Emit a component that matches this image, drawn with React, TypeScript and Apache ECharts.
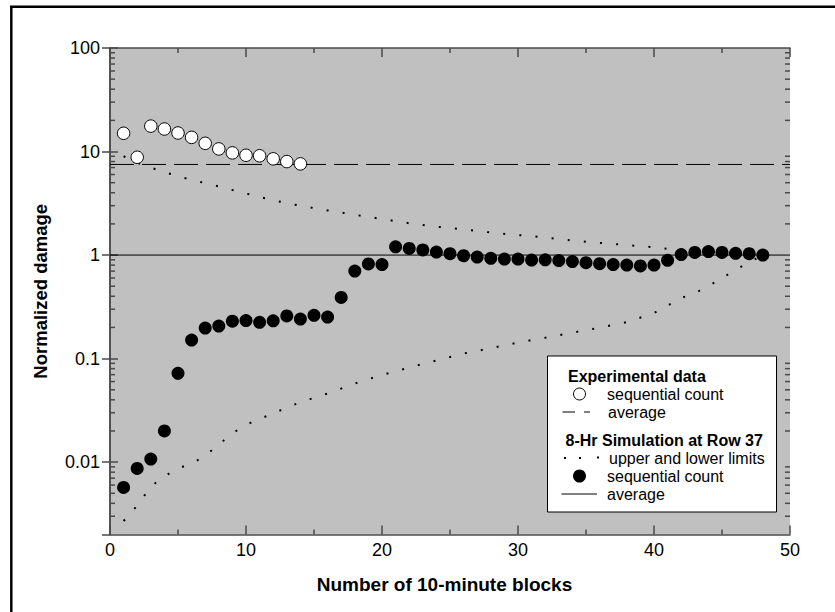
import React, { useEffect, useRef } from "react";
import * as echarts from "echarts";

// ---------- data ----------
const blocksExp = [1, 2, 3, 4, 5, 6, 7, 8, 9, 10, 11, 12, 13, 14];
const damageExp = [15.0, 8.8, 17.6, 16.5, 15.1, 13.7, 12.0, 10.6, 9.7, 9.2, 9.1, 8.5, 8.0, 7.6];

const blocksSim = [
  1, 2, 3, 4, 5, 6, 7, 8, 9, 10, 11, 12, 13, 14, 15, 16, 17, 18, 19, 20, 21, 22, 23, 24,
  25, 26, 27, 28, 29, 30, 31, 32, 33, 34, 35, 36, 37, 38, 39, 40, 41, 42, 43, 44, 45, 46, 47, 48,
];
const damageSim = [
  0.0057, 0.0087, 0.0107, 0.02, 0.072, 0.151, 0.197, 0.206, 0.23, 0.233, 0.224, 0.232,
  0.258, 0.241, 0.262, 0.252, 0.39, 0.7, 0.82, 0.81, 1.2, 1.16, 1.12, 1.07,
  1.03, 0.985, 0.956, 0.93, 0.915, 0.915, 0.895, 0.9, 0.885, 0.865, 0.845, 0.825,
  0.81, 0.8, 0.785, 0.8, 0.89, 1.01, 1.06, 1.08, 1.06, 1.04, 1.03, 1.0,
];

const limitBlocks = [
  1, 2, 3, 4, 5, 6, 7, 8, 9, 10, 12, 14, 16, 18, 20, 22, 24, 26, 28, 30, 32, 34, 36, 38, 40,
  41, 42, 43, 44, 45, 46, 47, 48,
];
const upperLimit = [
  9.0, 7.8, 7.0, 6.3, 5.8, 5.3, 4.96, 4.6, 4.25, 3.93, 3.38, 2.99, 2.7, 2.45, 2.23, 2.03,
  1.88, 1.77, 1.65, 1.56, 1.48, 1.38, 1.31, 1.25, 1.19, 1.15, 1.12, 1.1, 1.08, 1.06, 1.04, 1.02, 1.0,
];
const lowerLimit = [
  0.0027, 0.0038, 0.0058, 0.0073, 0.0087, 0.0097, 0.0115, 0.0148, 0.019, 0.023, 0.0296, 0.038,
  0.046, 0.0575, 0.0695, 0.082, 0.096, 0.112, 0.126, 0.143, 0.159, 0.178, 0.199, 0.225, 0.275,
  0.325, 0.385, 0.43, 0.5, 0.6, 0.72, 0.85, 1.0,
];

const expAverage = 7.5;
const simAverage = 1.0;

const xRange = [0, 50];
const yRange = [0.002, 100];
const yMinorTicks = [
  0.003, 0.004, 0.005, 0.006, 0.007, 0.008, 0.009,
  0.02, 0.03, 0.04, 0.05, 0.06, 0.07, 0.08, 0.09,
  0.2, 0.3, 0.4, 0.5, 0.6, 0.7, 0.8, 0.9,
  2, 3, 4, 5, 6, 7, 8, 9,
  20, 30, 40, 50, 60, 70, 80, 90,
];

const legendTitles = ["Experimental data", "8-Hr Simulation at Row 37"];
const legendLabels = ["sequential count", "average", "upper and lower limits", "sequential count", "average"];

const FONT = '"Liberation Sans", Arial, Helvetica, sans-serif';
const AX = "#4a4a4a";

export default function App() {
  const ref = useRef<HTMLDivElement>(null);

  useEffect(() => {
    if (!ref.current) return;
    const chart = echarts.init(ref.current, undefined, { renderer: "svg" });

    const fmtY = (v: number) => {
      const l = Math.log10(v);
      if (Math.abs(l - Math.round(l)) > 1e-6) return "";
      return String(Number(v.toPrecision(6)));
    };

    const txt = (text: string, x: number, y: number, bold = false) => ({
      type: "text",
      x,
      y,
      silent: true,
      style: {
        text,
        font: `${bold ? "bold " : ""}16px ${FONT}`,
        fill: "#000",
        verticalAlign: "middle",
        textAlign: "left",
      },
    });

    const option: any = {
      animation: false,
      backgroundColor: "#fff",
      textStyle: { fontFamily: FONT },
      grid: {
        left: 110,
        top: 48,
        right: 45,
        bottom: 77.5,
        show: true,
        backgroundColor: "#c0c0c0",
        borderWidth: 0,
      },
      xAxis: [
        {
          type: "value",
          min: xRange[0],
          max: xRange[1],
          interval: 10,
          position: "bottom",
          name: "Number of 10-minute blocks",
          nameLocation: "middle",
          nameGap: 40,
          nameTextStyle: {
            fontFamily: FONT,
            fontWeight: "bold",
            fontSize: 19,
            color: "#000",
            padding: [0, 11, 0, 0],
          },
          axisLine: { show: true, lineStyle: { color: AX, width: 1.5 } },
          axisTick: { show: true, inside: true, length: 9, lineStyle: { color: AX, width: 1.5 } },
          minorTick: { show: true, splitNumber: 2, length: 5, lineStyle: { color: AX, width: 1.5 } },
          axisLabel: { fontFamily: FONT, fontSize: 18, color: "#000", margin: 6 },
          splitLine: { show: false },
        },
        {
          type: "value",
          min: xRange[0],
          max: xRange[1],
          interval: 10,
          position: "top",
          axisLine: { show: true, lineStyle: { color: AX, width: 1.5 } },
          axisTick: { show: true, inside: true, length: 9, lineStyle: { color: AX, width: 1.5 } },
          minorTick: { show: true, splitNumber: 2, length: 5, lineStyle: { color: AX, width: 1.5 } },
          axisLabel: { show: false },
          splitLine: { show: false },
        },
      ],
      yAxis: [
        {
          type: "log",
          logBase: 10,
          min: yRange[0],
          max: yRange[1],
          position: "left",
          name: "Normalized damage",
          nameLocation: "middle",
          nameGap: 60,
          nameTextStyle: { fontFamily: FONT, fontWeight: "bold", fontSize: 18.5, color: "#000" },
          axisLine: { show: true, lineStyle: { color: AX, width: 1.5 } },
          axisTick: { show: true, inside: true, length: 8, lineStyle: { color: AX, width: 1.5 } },
          axisLabel: {
            fontFamily: FONT,
            fontSize: 18,
            color: "#000",
            margin: 10,
            showMinLabel: false,
            formatter: fmtY,
          },
          splitLine: { show: false },
        },
        {
          type: "log",
          logBase: 10,
          min: yRange[0],
          max: yRange[1],
          position: "right",
          axisLine: { show: true, lineStyle: { color: AX, width: 1.5 } },
          axisTick: { show: true, inside: true, length: 8, lineStyle: { color: AX, width: 1.5 } },
          axisLabel: { show: false },
          splitLine: { show: false },
        },
      ],
      series: [
        {
          type: "custom",
          name: "minorTicks",
          xAxisIndex: 0,
          yAxisIndex: 0,
          clip: false,
          silent: true,
          z: 1,
          data: yMinorTicks.map((v) => [xRange[0], v]),
          renderItem: (params: any, api: any) => {
            const v = api.value(1);
            const pl = api.coord([xRange[0], v]);
            const pr = api.coord([xRange[1], v]);
            return {
              type: "group",
              children: [
                {
                  type: "line",
                  shape: { x1: pl[0], y1: pl[1], x2: pl[0] + 5, y2: pl[1] },
                  style: { stroke: AX, lineWidth: 1.5 },
                },
                {
                  type: "line",
                  shape: { x1: pr[0] - 5, y1: pr[1], x2: pr[0], y2: pr[1] },
                  style: { stroke: AX, lineWidth: 1.5 },
                },
              ],
            };
          },
        },
        {
          type: "line",
          name: "expAverage",
          data: [
            [xRange[0], expAverage],
            [xRange[1], expAverage],
          ],
          showSymbol: false,
          z: 2,
          lineStyle: { color: "#000", width: 1, type: [24, 8] },
        },
        {
          type: "line",
          name: "simAverage",
          data: [
            [xRange[0], simAverage],
            [xRange[1], simAverage],
          ],
          showSymbol: false,
          z: 2,
          lineStyle: { color: "#000", width: 1, type: "solid" },
        },
        {
          type: "line",
          name: "upper",
          data: limitBlocks.map((b, i) => [b, upperLimit[i]]),
          showSymbol: false,
          smooth: false,
          z: 2,
          lineStyle: { color: "#000", width: 2, type: [2, 14.2], cap: "butt" },
        },
        {
          type: "line",
          name: "lower",
          data: limitBlocks.map((b, i) => [b, lowerLimit[i]]),
          showSymbol: false,
          smooth: false,
          z: 2,
          lineStyle: { color: "#000", width: 2, type: [2, 14.2], cap: "butt" },
        },
        {
          type: "scatter",
          name: "exp",
          data: blocksExp.map((b, i) => [b, damageExp[i]]),
          symbol: "circle",
          symbolSize: 12.5,
          z: 5,
          itemStyle: { color: "#fff", borderColor: "#000", borderWidth: 1, opacity: 1 },
        },
        {
          type: "scatter",
          name: "sim",
          data: blocksSim.map((b, i) => [b, damageSim[i]]),
          symbol: "circle",
          symbolSize: 13,
          z: 5,
          itemStyle: { color: "#000", opacity: 1 },
        },
      ],
      graphic: [
        {
          type: "line",
          silent: true,
          shape: { x1: 11.3, y1: 6.8, x2: 11.3, y2: 640 },
          style: { stroke: "#000", lineWidth: 2.5 },
        },
        {
          type: "line",
          silent: true,
          shape: { x1: 10, y1: 6.8, x2: 860, y2: 6.8 },
          style: { stroke: "#000", lineWidth: 2.5 },
        },
        {
          type: "group",
          z: 100,
          children: [
            {
              type: "rect",
              shape: { x: 547.5, y: 356, width: 229, height: 156 },
              style: { fill: "#fff", stroke: "#000", lineWidth: 1 },
            },
            txt(legendTitles[0], 568, 376, true),
            {
              type: "circle",
              shape: { cx: 579.5, cy: 394, r: 6 },
              style: { fill: "#fff", stroke: "#000", lineWidth: 1 },
            },
            txt(legendLabels[0], 607, 394.5),
            {
              type: "line",
              shape: { x1: 562.5, y1: 412, x2: 575, y2: 412 },
              style: { stroke: "#000", lineWidth: 1 },
            },
            {
              type: "line",
              shape: { x1: 584, y1: 412, x2: 590, y2: 412 },
              style: { stroke: "#000", lineWidth: 1 },
            },
            txt(legendLabels[1], 608, 412),
            txt(legendTitles[1], 565.5, 440.5, true),
            { type: "rect", shape: { x: 564, y: 457, width: 2, height: 2 }, style: { fill: "#000" } },
            { type: "rect", shape: { x: 579, y: 457, width: 2, height: 2 }, style: { fill: "#000" } },
            { type: "rect", shape: { x: 597, y: 456.5, width: 2, height: 2 }, style: { fill: "#000" } },
            txt(legendLabels[2], 609, 458),
            {
              type: "circle",
              shape: { cx: 579.5, cy: 476, r: 6.5 },
              style: { fill: "#000" },
            },
            txt(legendLabels[3], 607, 476.5),
            {
              type: "line",
              shape: { x1: 561.5, y1: 494, x2: 597, y2: 494 },
              style: { stroke: "#000", lineWidth: 1 },
            },
            txt(legendLabels[4], 607, 494),
          ],
        },
      ],
    };

    chart.setOption(option);
    return () => {
      chart.dispose();
    };
  }, []);

  return (
    <div
      ref={ref}
      style={{ position: "absolute", left: 0, top: 0, width: 835, height: 612, background: "#fff" }}
    />
  );
}
